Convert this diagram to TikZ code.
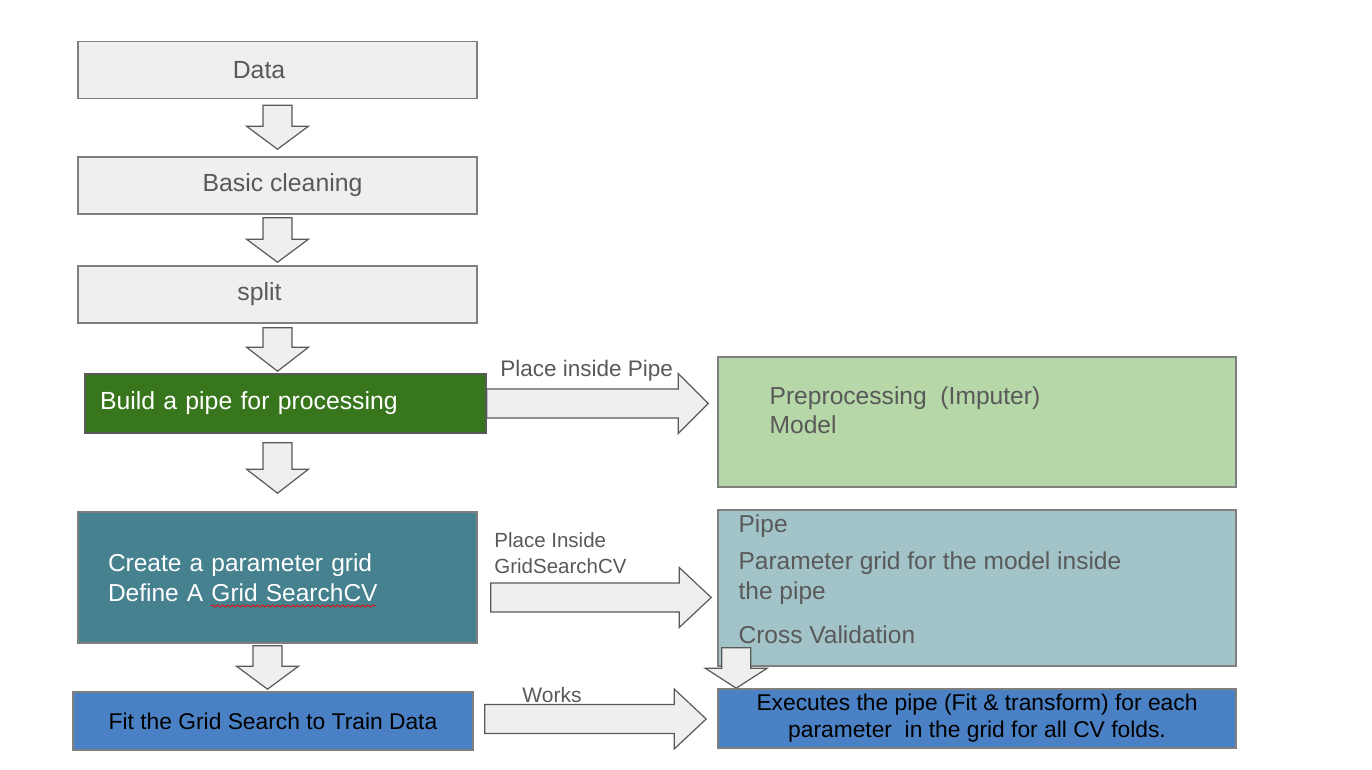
\documentclass[tikz,border=0pt]{standalone}
\usepackage{fontspec}
\setmainfont{Liberation Sans}
\usepackage{xcolor}
\usetikzlibrary{calc,decorations.pathmorphing}

\definecolor{boxgray}{HTML}{EFEFEF}
\definecolor{linegray}{HTML}{7F7F7F}
\definecolor{txtgray}{HTML}{595959}
\definecolor{pipedark}{HTML}{38761D}
\definecolor{pipelight}{HTML}{B6D7A8}
\definecolor{griddark}{HTML}{45818E}
\definecolor{gridlight}{HTML}{A2C4C9}
\definecolor{fitblue}{HTML}{4A80C4}

\begin{document}
\begin{tikzpicture}[x=0.5pt,y=-0.5pt]
          \tikzset{
            BoxStyle/.style = { rectangle, draw=linegray, line width=0.8pt,
              inner sep=0pt, minimum width=199.5pt, minimum height=28.5pt,
              fill=boxgray, text=txtgray, font=\fontsize{12.4}{14.5}\selectfont },
            BigBoxStyle/.style = { rectangle, draw=linegray, line width=0.8pt,
              inner sep=0pt, minimum width=259pt },
            InTextStyle/.style = { inner sep=0pt, align=left, text=txtgray,
              font=\fontsize{12.25}{15}\selectfont },
            LabelStyle/.style = { inner sep=0pt, text=txtgray },
            ArrowStyle/.style = { draw=txtgray, line width=0.6pt, fill=boxgray },
            fatdown/.style = { ArrowStyle, to path={
              ($(\tikztostart)+(-14.5,0)$) -- ($(\tikztostart)+(14.5,0)$)
              -- ($(\tikztotarget)+(14.5,-#1)$) -- ($(\tikztotarget)+(31,-#1)$)
              -- (\tikztotarget) -- ($(\tikztotarget)+(-31,-#1)$)
              -- ($(\tikztotarget)+(-14.5,-#1)$) -- cycle} },
            fatdown/.default = 23,
            fatright/.style = { ArrowStyle, to path={
              ($(\tikztostart)+(0,-14.5)$) -- ($(\tikztotarget)+(-#1,-14.5)$)
              -- ($(\tikztotarget)+(-#1,-30)$) -- (\tikztotarget)
              -- ($(\tikztotarget)+(-#1,30)$) -- ($(\tikztotarget)+(-#1,14.5)$)
              -- ($(\tikztostart)+(0,14.5)$) -- cycle} },
            fatright/.default = 30 }

          \fill[white] (0,0) rectangle (1372,770);

          % left column
          \node[BoxStyle] (data) at (277.5,70) {Data\rule{18.5pt}{0pt}};
          \node[BoxStyle] (clean) at (277.5,185.5) {\hspace{5pt}Basic cleaning};
          \node[BoxStyle] (split) at (277.5,294.5) {split\rule{18pt}{0pt}};
          \node[BoxStyle, minimum width=200.5pt, minimum height=29.5pt,
            fill=pipedark, draw=txtgray, text=white, align=left,
            text width=185.5pt, inner xsep=7.5pt] (build) at (285.5,403.5)
            {Build a pipe for processing};
          \node[BoxStyle, minimum height=65.5pt, fill=griddark, text=white,
            align=left, text width=169.5pt, inner xsep=15pt,
            font=\fontsize{12.25}{15}\selectfont] (grid) at (277.5,577.5)
            {Create a parameter grid\\Define A Grid SearchCV};
          \node[BoxStyle, minimum width=200pt, minimum height=29pt,
            fill=fitblue, text=black, font=\fontsize{11.4}{13.5}\selectfont]
            (fit) at (273,721) {Fit the Grid Search to Train Data};

          % right column
          \node[BigBoxStyle, minimum height=65pt, fill=pipelight] (pipebox) at (977,422) {};
          \node[BigBoxStyle, minimum height=78pt, fill=gridlight] (cvbox) at (977,588) {};
          \node[BigBoxStyle, minimum height=29.5pt, fill=fitblue, align=center,
            font=\fontsize{11.4}{13.5}\selectfont] (exec) at (977,718.5)
            {Executes the pipe (Fit \& transform) for each\\parameter\ \ in the grid for all CV folds.};
          \node[InTextStyle, anchor=north west, font=\fontsize{12.3}{14.5}\selectfont]
            (pipetext) at ($(pipebox.north west)+(52,30)$)
            {Preprocessing\ \ (Imputer)\\Model};
          \node[InTextStyle, anchor=north west] (cvtext) at ($(cvbox.north west)+(21,5)$)
            {Pipe\\[3.5pt]Parameter grid for the model inside\\the pipe\\[7pt]Cross Validation};

          % spell check mark
          \draw[red, line width=0.4pt, decorate,
            decoration={snake, amplitude=0.5pt, segment length=2.5pt}]
            ($(grid.west)+(134,28.5)$) -- ($(grid.west)+(299,28.5)$);

          % arrow ends
          \coordinate (d1s) at ($(data.south)+(0,6)$);
          \coordinate (d1e) at ($(clean.north)+(0,-7)$);
          \coordinate (d2s) at ($(clean.south)+(0,3)$);
          \coordinate (d2e) at ($(split.north)+(0,-3)$);
          \coordinate (d3s) at ($(split.south)+(0,4)$);
          \coordinate (d3e) at ($(build.north -| split.south)+(0,-2)$);
          \coordinate (d4s) at ($(build.south -| grid.north)+(0,9)$);
          \coordinate (d4e) at ($(grid.north)+(0,-18)$);
          \coordinate (d5s) at ($(grid.south)+(-10,2)$);
          \coordinate (d5e) at ($(fit.north -| d5s)+(0,-2)$);
          \coordinate (d6s) at ($(cvbox.south west)+(19,-19)$);
          \coordinate (d6e) at (exec.north -| d6s);
          \coordinate (r1s) at (build.east);
          \coordinate (r1e) at ($(pipebox.west |- build.east)+(-9,0)$);
          \coordinate (r2s) at ($(grid.east)+(13,20)$);
          \coordinate (r2e) at ($(cvbox.west |- r2s)+(-6,0)$);
          \coordinate (r3s) at ($(fit.east)+(11,-2)$);
          \coordinate (r3e) at ($(exec.west |- r3s)+(-11,0)$);

          \draw[fatdown] (d1s) to (d1e);
          \draw[fatdown] (d2s) to (d2e);
          \draw[fatdown=24] (d3s) to (d3e);
          \draw[fatdown=24] (d4s) to (d4e);
          \draw[fatdown] (d5s) to (d5e);
          \draw[fatdown=20] (d6s) to (d6e);
          \draw[fatright] (r1s) to (r1e);
          \draw[fatright=32] (r2s) to (r2e);
          \draw[fatright=32] (r3s) to (r3e);

          % arrow labels
          \node[LabelStyle, anchor=base west, font=\fontsize{11.25}{13}\selectfont]
            (lblpipe) at (500,377) {Place inside Pipe};
          \node[LabelStyle, anchor=west, align=left, font=\fontsize{10.25}{13}\selectfont]
            (lblgrid) at (494,553.5) {Place Inside\\GridSearchCV};
          \node[LabelStyle, anchor=base west, font=\fontsize{10.5}{12.6}\selectfont]
            (lblworks) at (522,702) {Works};
\end{tikzpicture}
\end{document}
